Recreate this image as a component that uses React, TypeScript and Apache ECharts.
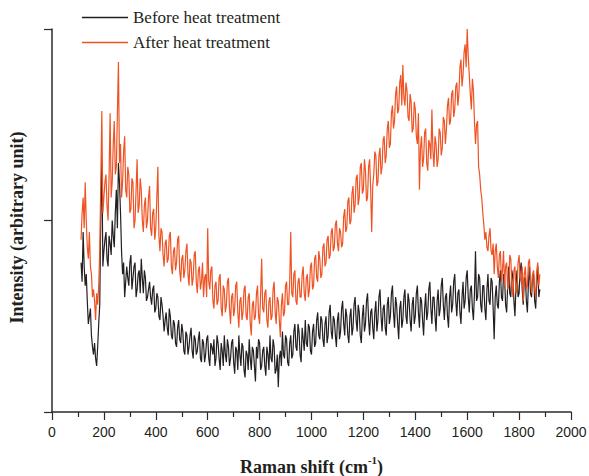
import React, { useEffect, useRef } from "react";
import * as echarts from "echarts";

// Raman shift sampling grid (cm^-1)
const RAMAN_START = 112;
const RAMAN_STEP = 4;

// Intensity (arbitrary units, 0-1000 scale); one row = 80 cm^-1
const beforeHeat = [
  390, 340, 470, 380, 330, 360, 290, 230, 250, 270, 200, 170, 150, 180, 140, 120, 170, 230, 280, 520,
  660, 380, 420, 450, 470, 400, 380, 460, 440, 410, 500, 460, 430, 520, 580, 480, 650, 600, 520, 420,
  360, 390, 300, 340, 380, 350, 330, 390, 410, 320, 350, 380, 390, 300, 320, 360, 370, 310, 400, 350,
  310, 370, 350, 290, 300, 320, 340, 300, 280, 320, 330, 260, 270, 310, 300, 250, 240, 300, 280, 250,
  210, 240, 260, 220, 200, 270, 250, 200, 190, 240, 230, 180, 170, 220, 240, 190, 180, 230, 210, 160,
  150, 210, 200, 150, 170, 200, 220, 160, 140, 200, 190, 150, 160, 190, 210, 140, 130, 190, 180, 130,
  150, 190, 200, 140, 120, 180, 170, 150, 190, 120, 140, 200, 180, 140, 110, 180, 160, 120, 200, 150,
  130, 190, 170, 120, 140, 180, 190, 130, 100, 170, 160, 110, 200, 150, 120, 180, 170, 110, 90, 160,
  150, 110, 190, 140, 110, 170, 160, 120, 80, 170, 140, 190, 180, 110, 120, 160, 170, 120, 95, 170,
  150, 110, 200, 140, 130, 190, 170, 100, 110, 150, 65, 140, 160, 120, 210, 150, 140, 200, 190, 130,
  120, 180, 200, 140, 150, 210, 230, 170, 160, 230, 210, 150, 130, 220, 190, 160, 240, 180, 170, 230,
  220, 160, 150, 210, 230, 170, 180, 240, 260, 200, 190, 250, 240, 190, 170, 230, 250, 180, 200, 260,
  280, 210, 190, 250, 240, 200, 170, 240, 260, 190, 210, 270, 290, 230, 200, 270, 250, 200, 180, 250,
  270, 200, 220, 280, 300, 240, 210, 280, 260, 200, 180, 250, 280, 210, 230, 290, 310, 240, 200, 260,
  270, 220, 190, 260, 290, 210, 240, 300, 320, 250, 210, 270, 280, 220, 200, 280, 300, 230, 250, 310,
  330, 260, 220, 300, 280, 230, 190, 270, 290, 220, 240, 300, 320, 250, 230, 310, 290, 240, 210, 280,
  300, 230, 250, 310, 330, 260, 220, 300, 290, 240, 200, 270, 310, 240, 260, 320, 340, 270, 230, 300,
  300, 250, 210, 290, 320, 250, 270, 330, 350, 280, 240, 300, 310, 250, 220, 300, 330, 260, 280, 340,
  360, 290, 250, 310, 320, 260, 230, 300, 340, 270, 290, 350, 370, 300, 260, 320, 330, 270, 240, 310,
  420, 290, 300, 360, 350, 280, 260, 330, 330, 270, 240, 320, 360, 290, 280, 350, 340, 270, 190, 300,
  330, 280, 270, 340, 370, 300, 290, 360, 350, 280, 260, 330, 380, 310, 300, 370, 350, 290, 250, 330,
  370, 300, 310, 370, 390, 320, 280, 350, 350, 290, 260, 340, 380, 310, 300, 360, 360, 290, 270, 340,
  380, 300, 320,
];

const afterHeat = [
  450, 520, 560, 480, 600, 500, 430, 400, 470, 380, 360, 300, 320, 290, 240, 310, 280, 330, 420, 600,
  786, 520, 560, 600, 620, 540, 500, 620, 780, 560, 600, 700, 760, 620, 640, 780, 914, 650, 700, 560,
  600, 680, 720, 580, 560, 640, 620, 520, 530, 610, 600, 480, 500, 580, 660, 520, 540, 610, 580, 500,
  470, 540, 560, 480, 500, 560, 590, 480, 460, 520, 530, 450, 480, 560, 640, 460, 420, 480, 470, 410,
  380, 440, 450, 390, 400, 460, 470, 380, 360, 420, 430, 370, 390, 450, 460, 370, 340, 400, 410, 350,
  370, 420, 440, 360, 330, 400, 390, 330, 350, 410, 420, 340, 310, 370, 380, 320, 340, 390, 300, 350,
  360, 300, 480, 340, 320, 370, 380, 290, 270, 330, 340, 280, 290, 350, 360, 270, 250, 330, 320, 260,
  280, 340, 350, 270, 230, 300, 310, 250, 270, 330, 340, 260, 220, 290, 300, 240, 260, 320, 330, 250,
  240, 300, 310, 230, 200, 280, 290, 240, 250, 310, 330, 250, 230, 310, 400, 270, 260, 310, 320, 240,
  220, 290, 300, 240, 250, 320, 340, 260, 230, 300, 290, 240, 195, 280, 310, 250, 260, 330, 340, 280,
  280, 340, 470, 310, 300, 360, 370, 290, 280, 340, 350, 300, 300, 360, 380, 310, 290, 350, 360, 300,
  320, 380, 390, 320, 330, 400, 410, 350, 340, 420, 400, 350, 360, 430, 440, 380, 390, 450, 460, 400,
  410, 470, 480, 420, 430, 490, 500, 440, 420, 480, 470, 430, 440, 510, 530, 470, 480, 550, 560, 490,
  500, 570, 590, 520, 540, 610, 620, 540, 560, 640, 650, 570, 580, 660, 630, 550, 560, 640, 660, 580,
  470, 590, 620, 680, 670, 590, 600, 670, 690, 620, 640, 710, 720, 650, 670, 740, 760, 690, 700, 780,
  800, 740, 760, 830, 850, 780, 790, 860, 880, 800, 906, 820, 800, 860, 840, 770, 760, 830, 810, 730,
  740, 810, 790, 720, 700, 780, 580, 690, 720, 640, 660, 730, 740, 650, 630, 710, 700, 660, 790, 680,
  640, 720, 700, 640, 660, 740, 730, 670, 690, 770, 760, 700, 740, 800, 820, 750, 760, 830, 840, 770,
  790, 850, 860, 800, 830, 900, 920, 850, 880, 940, 960, 900, 1000, 930, 880, 830, 790, 870, 840, 760,
  700, 750, 760, 640, 620, 580, 560, 520, 490, 450, 470, 430, 420, 460, 480, 420, 410, 440, 360, 420,
  440, 380, 350, 410, 420, 340, 370, 420, 330, 380, 390, 320, 330, 410, 400, 330, 300, 370, 380, 310,
  320, 390, 410, 350, 340, 380, 290, 360, 380, 320, 330, 390, 400, 340, 310, 360, 370, 320, 300, 370,
  390, 330, 360,
];

const xMin = 0;
const xMax = 2000;
const xInterval = 200;
const yMin = 0;
const yMax = 1000;
const yInterval = 500;

const seriesNames = ["Before heat treatment", "After heat treatment"];
const seriesColors = ["#231f20", "#ef5323"];

const toPairs = (vals: number[]) =>
  vals.map((v, i) => [RAMAN_START + i * RAMAN_STEP, v]);

export default function App() {
  const ref = useRef<HTMLDivElement>(null);

  useEffect(() => {
    if (!ref.current) return;
    const chart = echarts.init(ref.current, undefined, { renderer: "svg" });
    const axisColor = "#2b2b2b";
    chart.setOption({
      animation: false,
      backgroundColor: "#ffffff",
      grid: { left: 52, right: 18, top: 29, bottom: 64, outerBoundsMode: "none", containLabel: false },
      legend: {
        orient: "vertical",
        left: 82,
        top: 9,
        padding: 0,
        icon: "rect",
        itemWidth: 46,
        itemHeight: 1.5,
        itemGap: 8,
        data: seriesNames.map((n, i) => ({ name: n, itemStyle: { color: seriesColors[i] } })),
        textStyle: {
          fontFamily: "Liberation Serif",
          fontSize: 17,
          color: "#231f20",
        },
      },
      xAxis: {
        type: "value",
        min: xMin,
        max: xMax,
        interval: xInterval,
        axisLine: { show: true, onZero: false, lineStyle: { color: axisColor, width: 1.5 } },
        axisTick: { show: true, inside: false, length: 8, lineStyle: { color: axisColor, width: 1.2 } },
        minorTick: { show: true, splitNumber: 2, length: 5, lineStyle: { color: axisColor, width: 1.2 } },
        splitLine: { show: false },
        axisLabel: {
          margin: 13,
          fontFamily: "Liberation Sans",
          fontSize: 14,
          color: "#231f20",
          formatter: (v: number) => String(v),
        },
        name: "{a|Raman shift (cm}{s|-1}{a|)}",
        nameLocation: "middle",
        nameGap: 42,
        nameTextStyle: {
          rich: {
            a: { fontFamily: "Liberation Serif", fontWeight: "bold", fontSize: 18, color: "#231f20", lineHeight: 22, verticalAlign: "bottom" },
            s: { fontFamily: "Liberation Serif", fontWeight: "bold", fontSize: 11, color: "#231f20", lineHeight: 22, verticalAlign: "top" },
          },
        },
      },
      yAxis: {
        type: "value",
        min: yMin,
        max: yMax,
        interval: yInterval,
        axisLine: { show: true, lineStyle: { color: axisColor, width: 1.5 } },
        axisTick: { show: true, inside: false, length: 8, lineStyle: { color: axisColor, width: 1.2 } },
        splitLine: { show: false },
        axisLabel: { show: false },
        name: "Intensity (arbitrary unit)",
        nameLocation: "middle",
        nameGap: 26,
        nameTextStyle: {
          fontFamily: "Liberation Serif",
          fontWeight: "bold",
          fontSize: 18,
          color: "#231f20",
          padding: [0, 14, 0, 0],
        },
      },
      series: [
        {
          name: seriesNames[0],
          type: "line",
          data: toPairs(beforeHeat),
          symbol: "none",
          lineStyle: { color: seriesColors[0], width: 1.2 },
          itemStyle: { color: seriesColors[0] },
          z: 2,
        },
        {
          name: seriesNames[1],
          type: "line",
          data: toPairs(afterHeat),
          symbol: "none",
          lineStyle: { color: seriesColors[1], width: 1.2 },
          itemStyle: { color: seriesColors[1] },
          z: 3,
        },
      ],
    });
    return () => chart.dispose();
  }, []);

  return (
    <div
      ref={ref}
      style={{ position: "fixed", left: 0, top: 0, width: 589, height: 476, background: "#fff" }}
    />
  );
}
